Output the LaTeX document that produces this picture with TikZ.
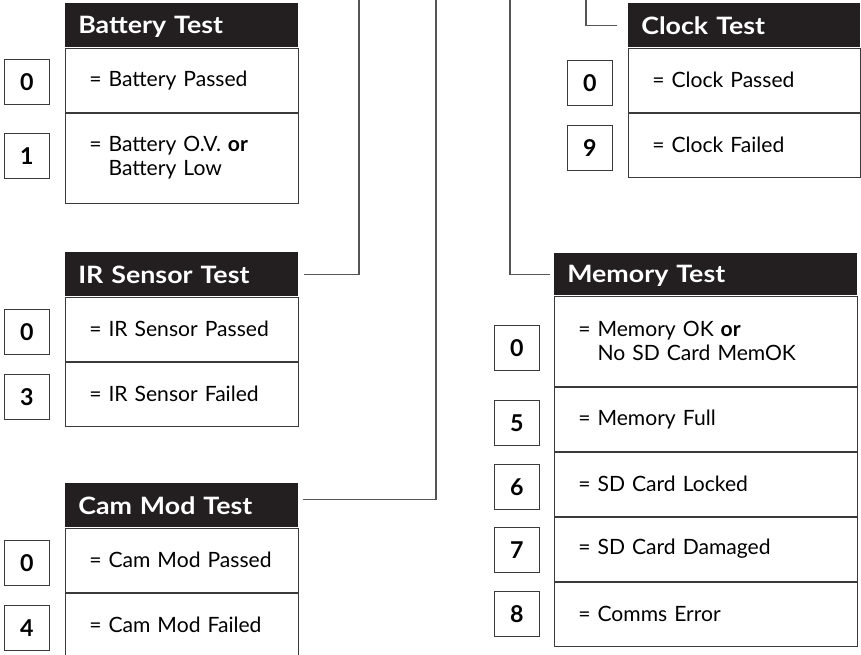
\documentclass[tikz,border=0pt]{standalone}
\usepackage{fontspec}
\setmainfont{Lato}
\newfontfamily\hdrface[FakeStretch=1.12]{Lato}
\usepackage{xcolor}
\usetikzlibrary{positioning}

\definecolor{ink}{HTML}{231F20}
\definecolor{rule}{HTML}{3A3A3A}
\definecolor{wiregrey}{HTML}{555555}

\newlength\pxu
\setlength\pxu{0.025cm}

\newcommand\hdrfont{\hdrface\fontsize{17}{19}\selectfont\bfseries}
\newcommand\cellfont{\fontsize{15}{17}\selectfont}
\newcommand\numfont{\fontsize{16.5}{19}\selectfont\bfseries}

\begin{document}
\begin{tikzpicture}[x=0.025cm,y=-0.025cm,
  hdr/.style={fill=ink, text=white, font=\hdrfont, anchor=north west,
    inner xsep=13\pxu, inner ysep=0pt, minimum height=44\pxu,
    text width=#1, text depth=0pt, align=left},
  cell/.style={draw=rule, line width=1\pxu, font=\cellfont,
    inner xsep=24\pxu, inner ysep=0pt, minimum height=64\pxu,
    text width=#1, align=left},
  num/.style={draw=rule, line width=1\pxu, font=\numfont,
    minimum size=45\pxu, inner sep=0pt},
  wire/.style={draw=wiregrey, line width=1.3\pxu},
]
\clip (0,0) rectangle (861,654);
\useasboundingbox (0,0) rectangle (861,654);

% left column
\node[hdr=207\pxu] (battHead) at (65,3) {Battery Test};
\node[cell=185\pxu, below=0pt of battHead] (battPass) {= Battery Passed};
\node[cell=185\pxu, minimum height=90\pxu, below=0pt of battPass] (battLow)
  {= Battery O.V. \textbf{or}\\\hphantom{=}~Battery Low};
\node[num, left=15\pxu of battPass, yshift=-2\pxu] (battPassNo) {0};
\node[num, left=15\pxu of battLow, yshift=2\pxu] (battLowNo) {1};

\node[hdr=207\pxu] (irHead) at (65,252) {IR Sensor Test};
\node[cell=185\pxu, below=0pt of irHead] (irPass) {= IR Sensor Passed};
\node[cell=185\pxu, below=0pt of irPass] (irFail) {= IR Sensor Failed};
\node[num, left=15\pxu of irPass, yshift=-3\pxu] (irPassNo) {0};
\node[num, left=15\pxu of irFail, yshift=-3\pxu] (irFailNo) {3};

\node[hdr=207\pxu] (camHead) at (65,483) {Cam Mod Test};
\node[cell=185\pxu, below=0pt of camHead] (camPass) {= Cam Mod Passed};
\node[cell=185\pxu, below=0pt of camPass] (camFail) {= Cam Mod Failed};
\node[num, left=15\pxu of camPass, yshift=-3\pxu] (camPassNo) {0};
\node[num, left=15\pxu of camFail, yshift=-3\pxu] (camFailNo) {4};

% right column
\node[hdr=206\pxu] (clkHead) at (628,3) {Clock Test};
\node[cell=184\pxu, below=0pt of clkHead] (clkPass) {= Clock Passed};
\node[cell=184\pxu, below=0pt of clkPass] (clkFail) {= Clock Failed};
\node[num, left=15\pxu of clkPass, yshift=-3\pxu] (clkPassNo) {0};
\node[num, left=15\pxu of clkFail, yshift=-3\pxu] (clkFailNo) {9};

\node[hdr=277\pxu, minimum height=42\pxu] (memHead) at (554,253) {Memory Test};
\node[cell=255\pxu, minimum height=90\pxu, below=0pt of memHead] (memOk)
  {= Memory OK \textbf{or}\\\hphantom{=}~No SD Card MemOK};
\node[cell=255\pxu, below=0pt of memOk] (memFull) {= Memory Full};
\node[cell=255\pxu, below=0pt of memFull] (memLock) {= SD Card Locked};
\node[cell=255\pxu, below=0pt of memLock] (memDmg) {= SD Card Damaged};
\node[cell=255\pxu, below=0pt of memDmg] (memComm) {= Comms Error};
\node[num, left=14\pxu of memOk, yshift=-7\pxu] (memOkNo) {0};
\node[num, left=14\pxu of memFull, yshift=-4\pxu] (memFullNo) {5};
\node[num, left=14\pxu of memLock, yshift=-3\pxu] (memLockNo) {6};
\node[num, left=14\pxu of memDmg, yshift=-1\pxu] (memDmgNo) {7};
\node[num, left=14\pxu of memComm] (memCommNo) {8};

% connectors to the top edge
\coordinate (irTop) at (359,0);
\coordinate (camTop) at (436,0);
\coordinate (memTop) at (510,0);
\coordinate (clkTop) at (586,0);

\draw[wire] ([xshift=5\pxu]irHead.east) -| (irTop);
\draw[wire] ([xshift=4\pxu,yshift=6\pxu]camHead.east) -| (camTop);
\draw[wire] ([xshift=-4\pxu]memHead.west) -| (memTop);
\draw[wire] ([xshift=-11\pxu]clkHead.west) -| (clkTop);

\end{tikzpicture}
\end{document}
